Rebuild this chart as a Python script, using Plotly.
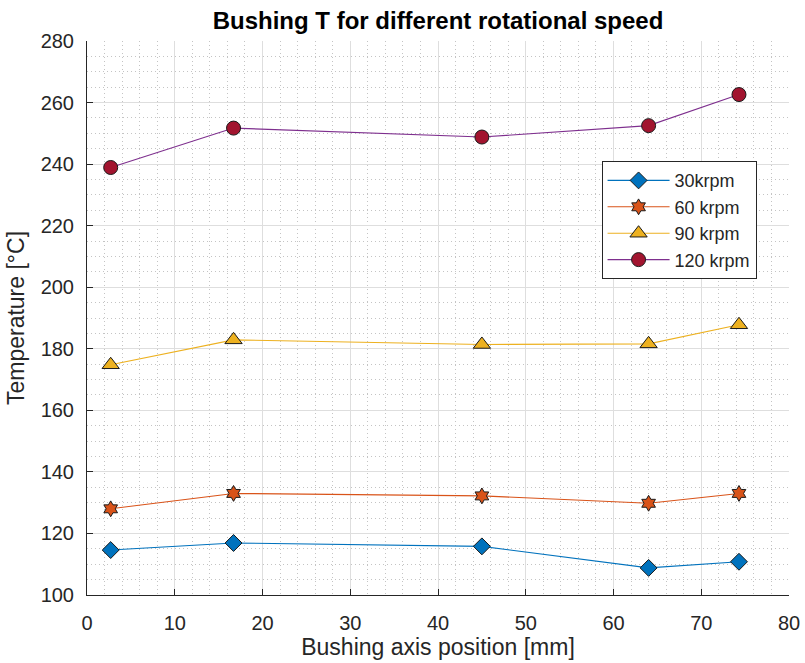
import plotly.graph_objects as go

# Axial measurement positions along the bushing [mm]
position_mm = [2.7, 16.7, 45.0, 64.0, 74.3]

# Bushing temperature [°C] for each rotational speed
temp_30krpm = [114.6, 116.9, 115.8, 108.8, 110.8]
temp_60krpm = [128.0, 133.0, 132.2, 129.8, 133.0]
temp_90krpm = [174.8, 182.9, 181.4, 181.6, 187.8]
temp_120krpm = [238.9, 251.7, 248.8, 252.5, 262.6]

series_names = ["30krpm", "60 krpm", "90 krpm", "120 krpm"]
series_values = [temp_30krpm, temp_60krpm, temp_90krpm, temp_120krpm]
line_colors = ["#0072BD", "#D95319", "#EDB120", "#7E2F8E"]
face_colors = ["#0072BD", "#D95319", "#EDB120", "#A2142F"]
symbols = ["diamond", "hexagram", "triangle-up", "circle"]
sizes = [13, 12, 15, 14]

x_ticks = [0, 10, 20, 30, 40, 50, 60, 70, 80]
y_ticks = [100, 120, 140, 160, 180, 200, 220, 240, 260, 280]

FONT = "Liberation Sans, Arial, Helvetica, sans-serif"
AX = "#262626"

fig = go.Figure()
for name, vals, lc, fc, sym, sz in zip(series_names, series_values, line_colors,
                                       face_colors, symbols, sizes):
    fig.add_trace(go.Scatter(
        x=position_mm, y=vals, name=name, mode="lines+markers",
        line=dict(color=lc, width=1.1),
        marker=dict(symbol=sym, size=sz, color=fc,
                    line=dict(color="#1a1a1a", width=1)),
    ))

axis_common = dict(
    showline=True, linecolor=AX, linewidth=1, mirror=False,
    ticks="inside", ticklen=6, tickcolor=AX, tickwidth=1,
    showgrid=True, gridcolor="#dedede", gridwidth=1,
    zeroline=False, automargin=False,
    tickfont=dict(family=FONT, size=20, color=AX),
    title_font=dict(family=FONT, size=23, color=AX),
)
minor_grid = dict(showgrid=True, gridcolor="#c4c4c4", griddash="1px,3px",
                  gridwidth=1)

fig.update_xaxes(
    range=[0, 80], tickvals=x_ticks, ticktext=[str(v) for v in x_ticks],
    title_text="Bushing axis position [mm]", title_standoff=5,
    ticklabelstandoff=10,
    minor=dict(dtick=2, **minor_grid),
    **axis_common,
)
fig.update_yaxes(
    range=[100, 280], tickvals=y_ticks, ticktext=[str(v) for v in y_ticks],
    title_text="Temperature [°C]", title_standoff=9,
    ticklabelstandoff=8,
    minor=dict(dtick=5, **minor_grid),
    **axis_common,
)

fig.update_layout(
    width=805, height=663,
    margin=dict(l=87, r=16, t=41, b=68),
    paper_bgcolor="white", plot_bgcolor="white",
    title=dict(text="<b>Bushing T for different rotational speed</b>",
               x=(87 + 789) / 2 / 805, xanchor="center", y=1 - 21 / 663,
               yanchor="middle",
               font=dict(family=FONT, size=24, color="black")),
    legend=dict(
        x=0.733, y=0.783, xanchor="left", yanchor="top",
        bgcolor="white", bordercolor=AX, borderwidth=1,
        font=dict(family=FONT, size=18, color=AX),
        itemwidth=62, tracegroupgap=0,
    ),
    showlegend=True,
)

fig.write_html("out.html")
